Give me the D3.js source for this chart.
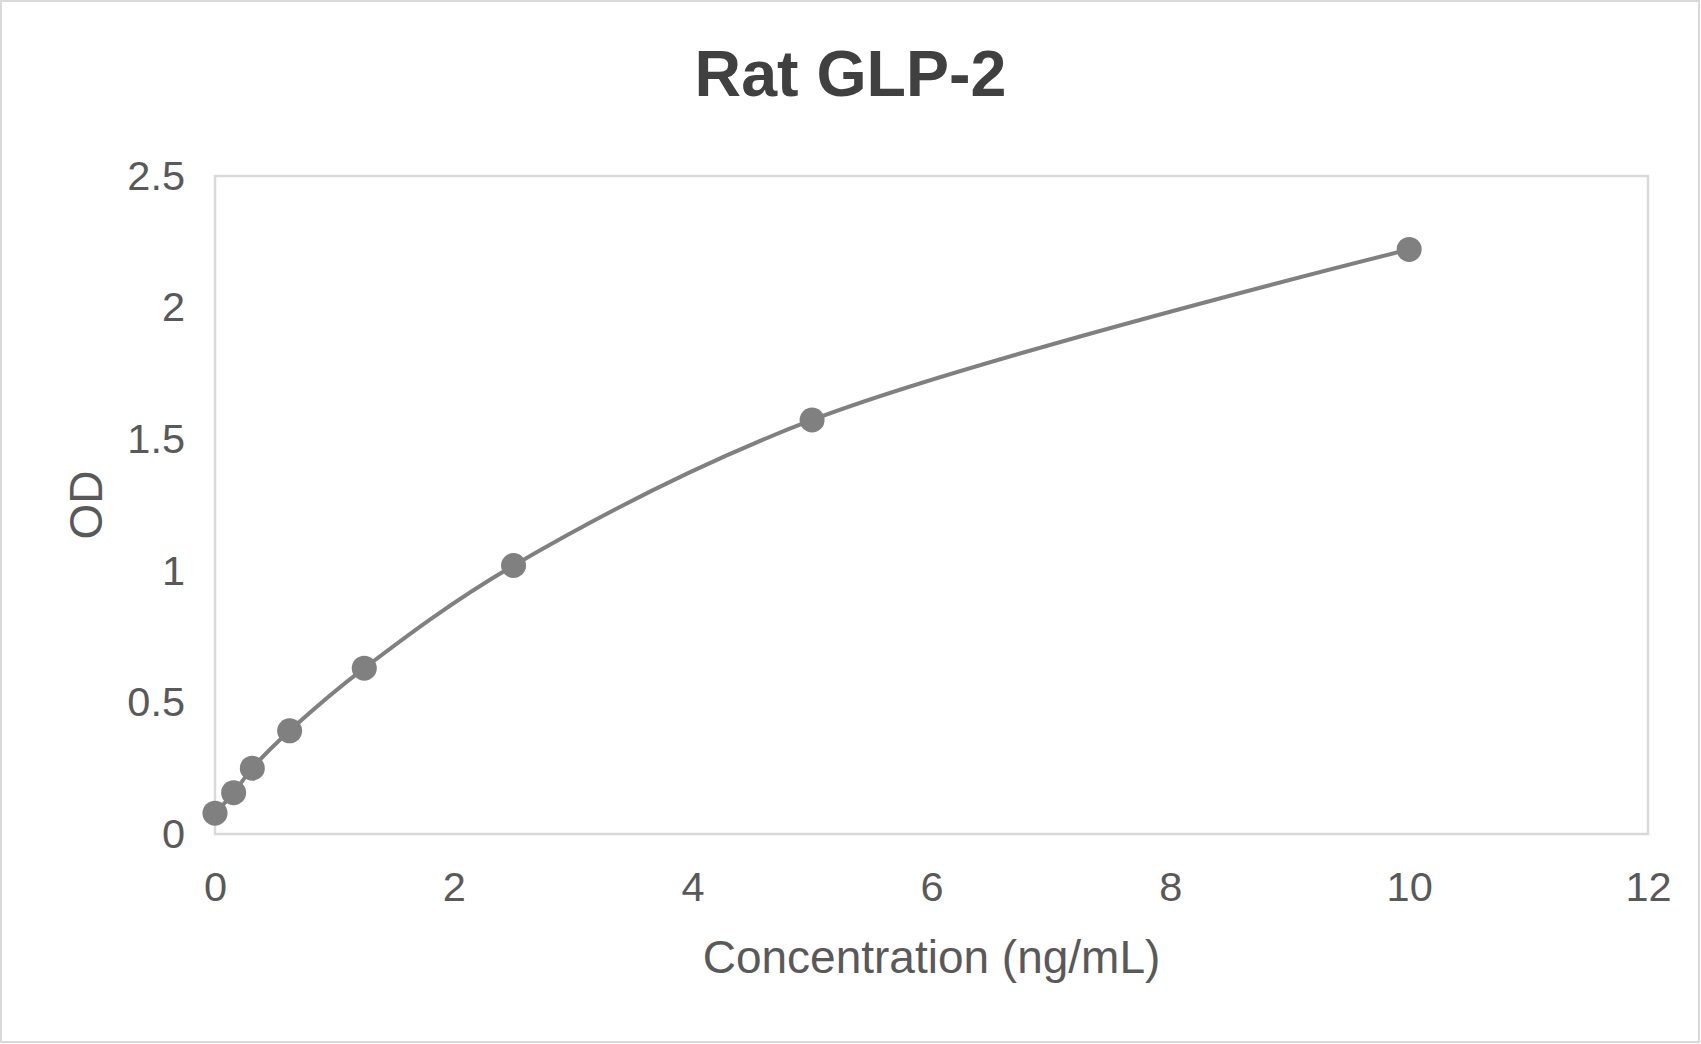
<!DOCTYPE html>
<html>
<head>
<meta charset="utf-8">
<script src="https://cdn.jsdelivr.net/npm/d3@7"></script>
<style>
  html, body { margin: 0; padding: 0; background: #fff; }
  svg { display: block; }
</style>
</head>
<body>
<svg id="chart" width="1701" height="1044"></svg>
<script>
const chartTitle = "Rat GLP-2";
const xAxisTitle = "Concentration (ng/mL)";
const yAxisTitle = "OD";
const concentration = [0, 0.156, 0.3125, 0.625, 1.25, 2.5, 5, 10];
const od = [0.079, 0.157, 0.25, 0.392, 0.63, 1.02, 1.573, 2.221];
const xTicks = [0, 2, 4, 6, 8, 10, 12];
const yTicks = [0, 0.5, 1, 1.5, 2, 2.5];

const W = 1701, H = 1044;
const m = { left: 215, right: 1648, top: 176, bottom: 834 };
const svg = d3.select("#chart");
const font = "'Liberation Sans', Arial, sans-serif";

// outer border
svg.append("rect").attr("x", 1).attr("y", 1).attr("width", W - 3).attr("height", H - 3)
  .attr("fill", "#fff").attr("stroke", "#d9d9d9").attr("stroke-width", 2);

const x = d3.scaleLinear().domain([0, 12]).range([m.left, m.right]);
const y = d3.scaleLinear().domain([0, 2.5]).range([m.bottom, m.top]);

// plot area border
svg.append("rect").attr("x", m.left).attr("y", m.top)
  .attr("width", m.right - m.left).attr("height", m.bottom - m.top)
  .attr("fill", "none").attr("stroke", "#d9d9d9").attr("stroke-width", 2.5);

// x axis
const xAxis = svg.append("g").attr("transform", `translate(0,${m.bottom})`)
  .call(d3.axisBottom(x).tickValues(xTicks).tickSize(0).tickPadding(38).tickFormat(d3.format("d")));
xAxis.select(".domain").remove();
xAxis.selectAll("text").attr("fill", "#595959").attr("font-size", 41.5).attr("font-family", font);

// y axis
const yAxis = svg.append("g").attr("transform", `translate(${m.left},0)`)
  .call(d3.axisLeft(y).tickValues(yTicks).tickSize(0).tickPadding(30).tickFormat(d => String(d)));
yAxis.select(".domain").remove();
yAxis.selectAll("text").attr("fill", "#595959").attr("font-size", 41.5).attr("font-family", font);

// titles
svg.append("text").attr("x", 850.5).attr("y", 96).attr("text-anchor", "middle")
  .attr("font-family", font).attr("font-weight", "bold").attr("font-size", 64.5)
  .attr("fill", "#404040").text(chartTitle);

svg.append("text").attr("x", (m.left + m.right) / 2).attr("y", 973).attr("text-anchor", "middle")
  .attr("font-family", font).attr("font-size", 46).attr("fill", "#595959").text(xAxisTitle);

svg.append("text").attr("transform", `translate(102,${(m.top + m.bottom) / 2}) rotate(-90)`)
  .attr("text-anchor", "middle")
  .attr("font-family", font).attr("font-size", 46).attr("fill", "#595959").text(yAxisTitle);

// data
const data = concentration.map((c, i) => ({ c, v: od[i] }));
const line = d3.line().x(d => x(d.c)).y(d => y(d.v)).curve(d3.curveCatmullRom.alpha(0.5));
svg.append("path").datum(data).attr("d", line)
  .attr("fill", "none").attr("stroke", "#808080").attr("stroke-width", 4);

svg.append("g").selectAll("circle").data(data).join("circle")
  .attr("cx", d => x(d.c)).attr("cy", d => y(d.v)).attr("r", 12.5)
  .attr("fill", "#808080");
</script>
</body>
</html>
